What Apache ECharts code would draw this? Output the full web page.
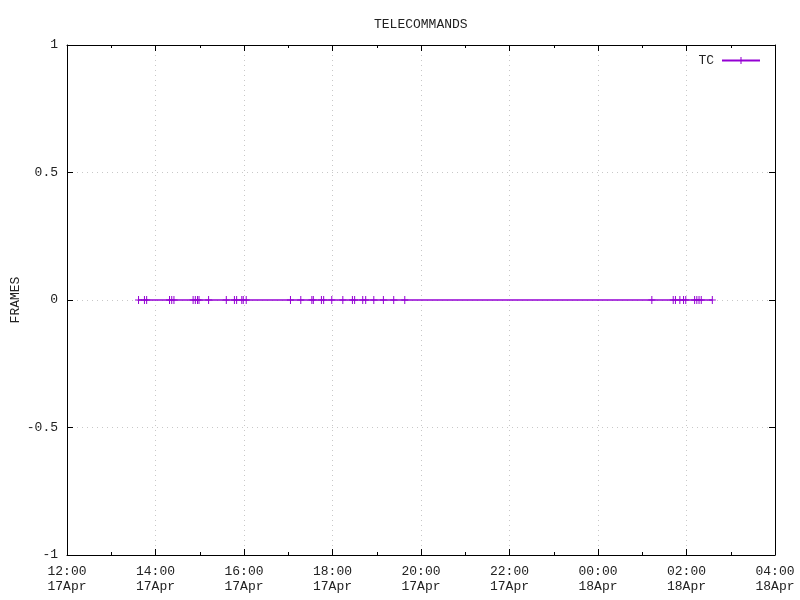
<!DOCTYPE html>
<html>
<head>
<meta charset="utf-8">
<script src="https://cdn.jsdelivr.net/npm/echarts@6/dist/echarts.min.js"></script>
<style>html,body{margin:0;padding:0;background:#fff}#c{width:800px;height:600px}</style>
</head>
<body>
<div id="c"></div>
<script>
// Data
const seriesName = 'TC';
const chartTitle = 'TELECOMMANDS';
const yAxisName = 'FRAMES';
const tcTimes = [
  '2024-04-17 13:37','2024-04-17 13:45','2024-04-17 13:48',
  '2024-04-17 14:19','2024-04-17 14:22','2024-04-17 14:25',
  '2024-04-17 14:51','2024-04-17 14:54','2024-04-17 14:57','2024-04-17 14:59',
  '2024-04-17 15:12','2024-04-17 15:36','2024-04-17 15:47','2024-04-17 15:50',
  '2024-04-17 15:57','2024-04-17 15:59','2024-04-17 16:03',
  '2024-04-17 17:03','2024-04-17 17:17','2024-04-17 17:32','2024-04-17 17:34',
  '2024-04-17 17:45','2024-04-17 17:48','2024-04-17 17:59',
  '2024-04-17 18:14','2024-04-17 18:27','2024-04-17 18:30','2024-04-17 18:41',
  '2024-04-17 18:45','2024-04-17 18:56',
  '2024-04-17 19:09','2024-04-17 19:23','2024-04-17 19:38',
  '2024-04-18 01:13','2024-04-18 01:42','2024-04-18 01:45','2024-04-18 01:51',
  '2024-04-18 01:56','2024-04-18 01:59','2024-04-18 02:11','2024-04-18 02:14',
  '2024-04-18 02:17','2024-04-18 02:20','2024-04-18 02:35'
];
const tcValues = tcTimes.map(() => 0);
const xStart = '2024-04-17 12:00';
const xEnd = '2024-04-18 04:00';
const yTicks = [-1, -0.5, 0, 0.5, 1];

function toMs(s) {
  const [d, t] = s.split(' ');
  const [Y, M, D] = d.split('-').map(Number);
  const [h, m] = t.split(':').map(Number);
  return Date.UTC(Y, M - 1, D, h, m);
}
const MON = ['Jan','Feb','Mar','Apr','May','Jun','Jul','Aug','Sep','Oct','Nov','Dec'];
function fmtTime(v) {
  const d = new Date(v);
  const hh = String(d.getUTCHours()).padStart(2, '0');
  const mm = String(d.getUTCMinutes()).padStart(2, '0');
  return hh + ':' + mm + '\n' + d.getUTCDate() + MON[d.getUTCMonth()];
}

const FONT = 'Liberation Mono';
const TXT = '#222';
const H2 = 2 * 3600 * 1000;
const xMin = toMs(xStart), xMax = toMs(xEnd);
const gridLine = { show: true, lineStyle: { color: '#c8c8c8', type: [1, 4], width: 1 } };
const axisLine = { show: true, onZero: false, lineStyle: { color: '#000', width: 1 } };

const chart = echarts.init(document.getElementById('c'), null, { renderer: 'canvas' });
chart.setOption({
  animation: false,
  backgroundColor: '#fff',
  title: {
    text: chartTitle, left: 369, top: 13,
    textStyle: { fontFamily: FONT, fontSize: 13, fontWeight: 'normal', color: TXT }
  },
  legend: {
    right: 34, top: 49, align: 'right',
    itemWidth: 38, itemHeight: 9,
    textStyle: { fontFamily: FONT, fontSize: 13, color: TXT, padding: [0, 3, 0, 0] },
    data: [seriesName]
  },
  grid: { left: 67, right: 25, top: 45, bottom: 45, containLabel: false, outerBoundsMode: 'none' },
  xAxis: [{
    type: 'value', position: 'bottom', min: xMin, max: xMax, interval: H2,
    axisLine: axisLine,
    axisTick: { show: true, inside: true, length: 6, lineStyle: { color: '#000' } },
    minorTick: { show: true, splitNumber: 2, length: 3, lineStyle: { color: '#000' } },
    axisLabel: { formatter: fmtTime, fontFamily: FONT, fontSize: 13, color: TXT, lineHeight: 15, margin: 9 },
    splitLine: gridLine
  }, {
    type: 'value', position: 'top', min: xMin, max: xMax, interval: H2,
    axisLine: axisLine,
    axisTick: { show: true, inside: true, length: 6, lineStyle: { color: '#000' } },
    minorTick: { show: true, splitNumber: 2, length: 3, lineStyle: { color: '#000' } },
    axisLabel: { show: false }, splitLine: { show: false }
  }],
  yAxis: [{
    type: 'value', position: 'left', min: yTicks[0], max: yTicks[yTicks.length - 1], interval: 0.5,
    name: yAxisName, nameLocation: 'middle', nameGap: 45, nameRotate: 90, nameMoveOverlap: false,
    nameTextStyle: { fontFamily: FONT, fontSize: 13, color: TXT },
    axisLine: axisLine,
    axisTick: { show: true, inside: true, length: 6, lineStyle: { color: '#000' } },
    axisLabel: { fontFamily: FONT, fontSize: 13, color: TXT, margin: 9,
      formatter: v => String(v) },
    splitLine: gridLine
  }, {
    type: 'value', position: 'right', min: yTicks[0], max: yTicks[yTicks.length - 1], interval: 0.5,
    axisLine: axisLine,
    axisTick: { show: true, inside: true, length: 6, lineStyle: { color: '#000' } },
    axisLabel: { show: false }, splitLine: { show: false }
  }],
  series: [{
    name: seriesName, type: 'line', xAxisIndex: 0, yAxisIndex: 0,
    data: tcTimes.map((t, i) => [toMs(t), tcValues[i]]),
    color: '#9400D3',
    lineStyle: { color: '#9400D3', width: 1.5 },
    symbol: 'path://M3,0H4V3H7V4H4V7H3V4H0V3H3Z',
    symbolSize: [7, 8],
    showAllSymbol: true,
    itemStyle: { color: '#9400D3' },
    emphasis: { disabled: true }
  }]
});
</script>
</body>
</html>
